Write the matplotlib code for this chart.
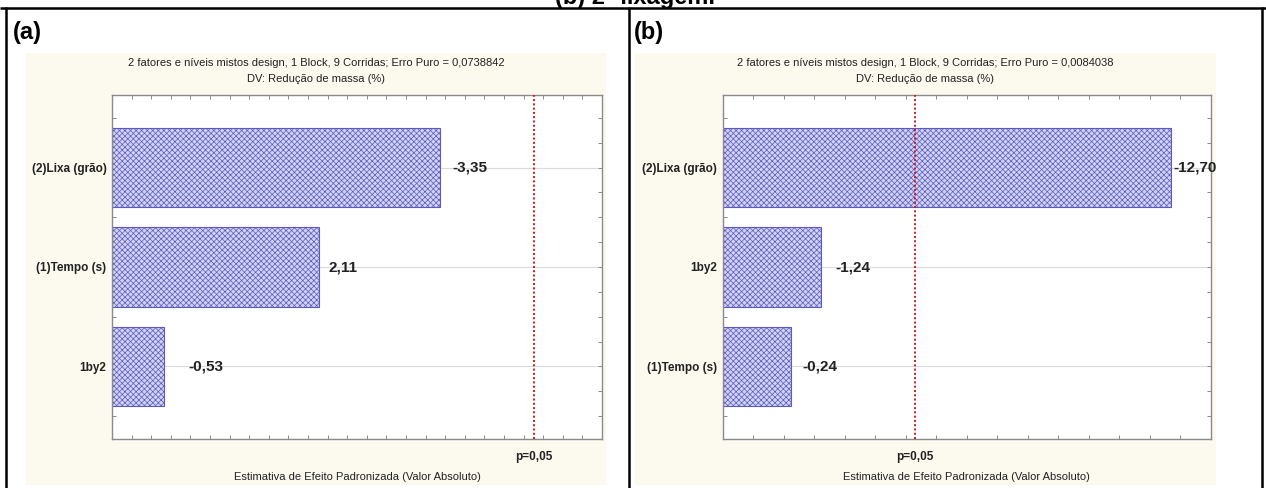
import matplotlib
matplotlib.use("Agg")
import matplotlib.pyplot as plt
from matplotlib.patches import Rectangle
from matplotlib.lines import Line2D
from matplotlib.ticker import MultipleLocator, NullFormatter
from matplotlib.transforms import blended_transform_factory

plt.rcParams['font.family'] = ['Liberation Sans', 'DejaVu Sans']
plt.rcParams['hatch.linewidth'] = 0.5
plt.rcParams['hatch.color'] = '#6C6CD0'

# ---- data -------------------------------------------------------------
factors_a = ["(2)Lixa (grão)", "(1)Tempo (s)", "1by2"]
effects_a = [-3.35, 2.11, -0.53]
factors_b = ["(2)Lixa (grão)", "1by2", "(1)Tempo (s)"]
effects_b = [-12.70, -1.24, -0.24]
t_crit = 4.303                     # limit for p = 0,05
pure_error_a = "0,0738842"
pure_error_b = "0,0084038"
xrange_a = (0, 5)
xrange_b = (-2, 14)

# ---- page layout (pixels) ----------------------------------------------
W, H = 1266, 488
fig = plt.figure(figsize=(W / 100, H / 100), dpi=100)
fig.patch.set_facecolor('white')


def fx(x):
    return x / W


def fy(y):
    return 1 - y / H


def line_px(x0, y0, x1, y1, lw=1.8):
    fig.add_artist(Line2D([fx(x0), fx(x1)], [fy(y0), fy(y1)], color='black',
                          lw=lw, transform=fig.transFigure, solid_capstyle='butt'))


# table borders
line_px(0, 7.5, W, 7.5)
line_px(6, 7, 6, H)
line_px(629, 7, 629, H)
line_px(1262, 7, 1262, H)

fig.text(fx(635), fy(4), "(b) 2ª lixagem.", ha='center', va='baseline',
         fontsize=17, fontweight='bold')

BAR_FACE = '#D2D2F4'
BAR_EDGE = '#5A5AC0'


def panel(tag, tag_x, bg, box, names, values, xr, err, pads, tick_step):
    bx0, bx1 = bg
    fig.add_artist(Rectangle((fx(bx0), fy(485)), (bx1 - bx0) / W, (485 - 53) / H,
                             transform=fig.transFigure, facecolor='#FCF9EF',
                             edgecolor='none', zorder=0))
    fig.text(fx(tag_x), fy(33), tag, ha='left', va='center',
             fontsize=17, fontweight='bold')
    cx = (bx0 + bx1) / 2
    fig.text(fx(cx), fy(63),
             "2 fatores e níveis mistos design, 1 Block, 9 Corridas; Erro Puro = " + err,
             ha='center', va='center', fontsize=8, color='#222222')
    fig.text(fx(cx), fy(79), "DV: Redução de massa (%)", ha='center',
             va='center', fontsize=8, color='#222222')

    x0, y0, x1, y1 = box
    ax = fig.add_axes([fx(x0), fy(y1), (x1 - x0) / W, (y1 - y0) / H])
    ax.set_facecolor('white')
    n = len(names)
    ypos = list(range(n - 1, -1, -1))
    mags = [abs(v) for v in values]
    ax.barh(ypos, [m - xr[0] for m in mags], left=xr[0], height=0.8,
            facecolor=BAR_FACE, edgecolor=BAR_EDGE, hatch='xxxxxx',
            linewidth=0.8, zorder=2)
    for y, v, m, p in zip(ypos, values, mags, pads):
        ax.annotate(f"{v:.2f}".replace('.', ','), xy=(m, y), xytext=(p, 0),
                    textcoords='offset pixels', ha='left', va='center',
                    fontsize=11, fontweight='bold', color='#222222',
                    annotation_clip=False)
    ax.axvline(t_crit, color='#D01818', lw=1.4, ls=(0, (1, 1.2)), zorder=3)

    ax.set_xlim(*xr)
    ax.set_ylim(-0.73, n - 1 + 0.73)
    ax.set_yticks(ypos)
    ax.set_yticklabels(names, fontsize=8.5, fontweight='bold', color='#222222')
    ax.yaxis.set_minor_locator(MultipleLocator(0.25))
    ax.xaxis.set_major_locator(MultipleLocator(tick_step))
    ax.xaxis.set_major_formatter(NullFormatter())
    ax.grid(axis='y', which='major', color='#DADADA', lw=0.8, zorder=0)
    ax.set_axisbelow(True)
    ax.tick_params(axis='both', which='both', direction='in', length=3,
                   color='#8A8A8A', top=True, right=True, width=0.7)
    ax.tick_params(axis='y', which='major', pad=4)
    for s in ax.spines.values():
        s.set_color('#8A8A8A')
        s.set_linewidth(1.0)

    tr = blended_transform_factory(ax.transData, fig.transFigure)
    ax.text(t_crit, fy(457), "p=0,05", transform=tr, ha='center', va='center',
            fontsize=8.5, fontweight='bold', color='#222222')
    fig.text(fx((x0 + x1) / 2), fy(477),
             "Estimativa de Efeito Padronizada (Valor Absoluto)",
             ha='center', va='center', fontsize=8, color='#222222')
    return ax


panel("(a)", 13, (26, 606), (112, 95, 602, 439), factors_a, effects_a,
      xrange_a, pure_error_a, [12, 10, 24], 0.2)
panel("(b)", 634, (635, 1216), (722.5, 95, 1211, 439), factors_b, effects_b,
      xrange_b, pure_error_b, [2, 14, 11], 1)

fig.savefig("out.png", dpi=100)
